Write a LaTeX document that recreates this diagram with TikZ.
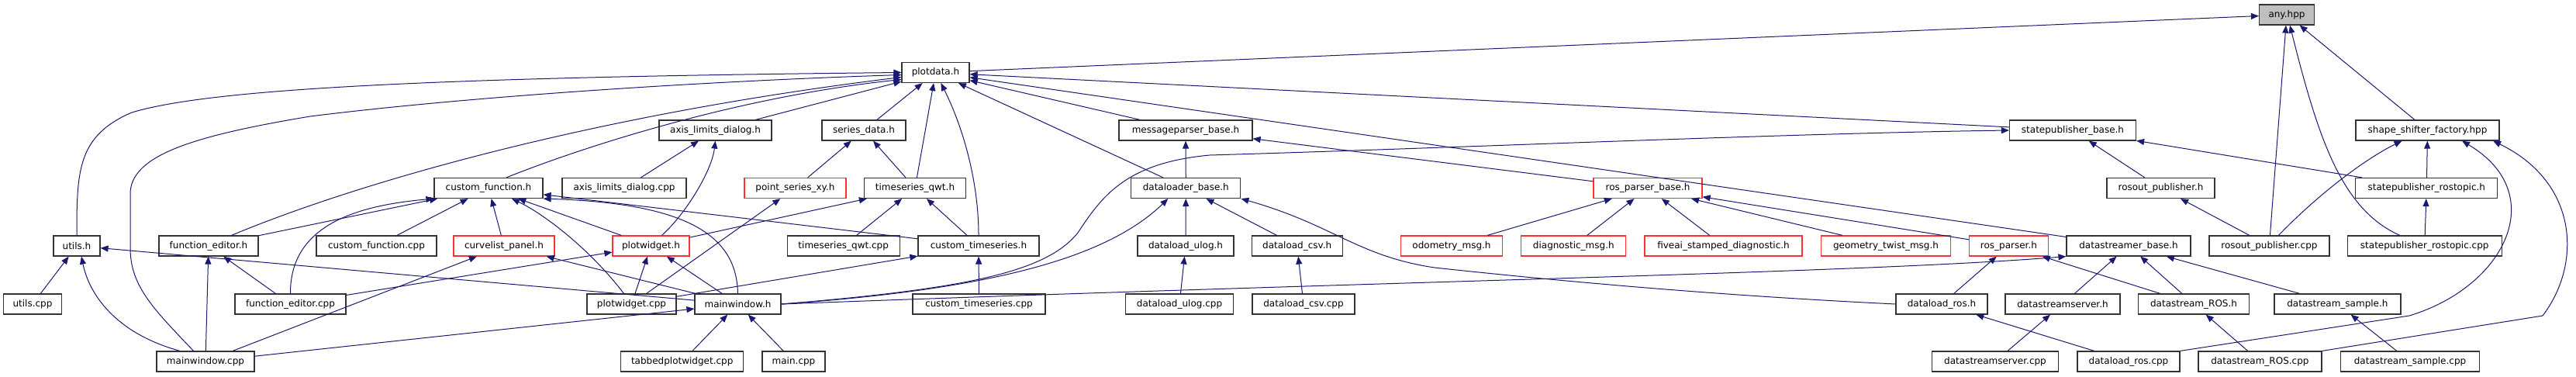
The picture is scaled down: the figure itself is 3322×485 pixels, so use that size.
\documentclass[tikz,border=0pt]{standalone}
\usepackage{fontspec}
\setmainfont{DejaVu Sans}
\usepackage{tikz}
\usetikzlibrary{arrows.meta}
\definecolor{edgeblue}{HTML}{191970}
\definecolor{boxred}{HTML}{FF3030}
\definecolor{boxgray}{HTML}{BFBFBF}
\begin{document}
\begin{tikzpicture}[x=1pt, y=-1pt, >={Triangle[length=10pt,width=8pt]},
	filebox/.style={draw=black!80, line width=1.2pt, inner sep=0pt, minimum height=26pt,
		minimum width=#1pt, font=\fontsize{12}{14}\selectfont},
	redbox/.style={filebox=#1, draw=boxred},
	dep/.style={<-, draw=edgeblue, line width=1pt}]
	\useasboundingbox (0,0) rectangle (3322,485);
	\node[filebox=71, fill=boxgray] (any) at (2949,19) {any.hpp};
	\node[filebox=87] (plotdata) at (1206.5,93.5) {plotdata.h};
	\node[filebox=145] (axislimh) at (922.5,168) {axis\_limits\_dialog.h};
	\node[filebox=108] (seriesdata) at (1114,168) {series\_data.h};
	\node[filebox=172] (msgparser) at (1529,168) {messageparser\_base.h};
	\node[filebox=163] (statepub) at (2673,168) {statepublisher\_base.h};
	\node[filebox=185] (shapeshift) at (3130.5,168) {shape\_shifter\_factory.hpp};
	\node[filebox=140] (customfunch) at (630,242.5) {custom\_function.h};
	\node[filebox=160] (axislimcpp) at (805,242.5) {axis\_limits\_dialog.cpp};
	\node[redbox=131] (pointxy) at (1025.5,242.5) {point\_series\_xy.h};
	\node[filebox=131] (tsqwth) at (1180,242.5) {timeseries\_qwt.h};
	\node[filebox=141] (loaderbase) at (1529.3,242.5) {dataloader\_base.h};
	\node[redbox=140] (rosparserbase) at (2125,242.5) {ros\_parser\_base.h};
	\node[filebox=139] (rosouth) at (2786.5,242.5) {rosout\_publisher.h};
	\node[filebox=183] (statepubtopich) at (3129.3,242.5) {statepublisher\_rostopic.h};
	\node[filebox=60] (utilsh) at (99,317) {utils.h};
	\node[filebox=128] (funceditorh) at (269,317) {function\_editor.h};
	\node[filebox=155] (customfunccpp) at (485.5,317) {custom\_function.cpp};
	\node[redbox=130] (curvelist) at (650,317) {curvelist\_panel.h};
	\node[redbox=99] (plotwidgeth) at (839.5,317) {plotwidget.h};
	\node[filebox=145] (tsqwtcpp) at (1087.7,317) {timeseries\_qwt.cpp};
	\node[filebox=156] (customtsh) at (1262,317) {custom\_timeseries.h};
	\node[filebox=124] (ulogh) at (1529,317) {dataload\_ulog.h};
	\node[filebox=117] (csvh) at (1672.7,317) {dataload\_csv.h};
	\node[redbox=131] (odometry) at (1872,317) {odometry\_msg.h};
	\node[redbox=135] (diagnostic) at (2029.3,317) {diagnostic\_msg.h};
	\node[redbox=203] (fiveai) at (2222.5,317) {fiveai\_stamped\_diagnostic.h};
	\node[redbox=167] (twist) at (2432,317) {geometry\_twist\_msg.h};
	\node[redbox=102] (rosparserh) at (2590.4,317) {ros\_parser.h};
	\node[filebox=160] (streamerbase) at (2745,317) {datastreamer\_base.h};
	\node[filebox=155] (rosoutcpp) at (2926.4,317) {rosout\_publisher.cpp};
	\node[filebox=199] (statepubtopiccpp) at (3126.7,317) {statepublisher\_rostopic.cpp};
	\node[filebox=75] (utilscpp) at (42,392) {utils.cpp};
	\node[filebox=143] (funceditorcpp) at (374.5,392) {function\_editor.cpp};
	\node[filebox=115] (plotwidgetcpp) at (814.5,392) {plotwidget.cpp};
	\node[filebox=111] (mainwindowh) at (951.5,392) {mainwindow.h};
	\node[filebox=171] (customtscpp) at (1262.5,392) {custom\_timeseries.cpp};
	\node[filebox=139] (ulogcpp) at (1521,392) {dataload\_ulog.cpp};
	\node[filebox=132] (csvcpp) at (1681,392) {dataload\_csv.cpp};
	\node[filebox=118] (rosloadh) at (2504,392) {dataload\_ros.h};
	\node[filebox=148] (serverh) at (2660,392) {datastreamserver.h};
	\node[filebox=143] (streamrosh) at (2829,392) {datastream\_ROS.h};
	\node[filebox=163] (sampleh) at (3014.4,392) {datastream\_sample.h};
	\node[filebox=126] (mainwindowcpp) at (265,466) {mainwindow.cpp};
	\node[filebox=158] (tabbedcpp) at (879.7,466) {tabbedplotwidget.cpp};
	\node[filebox=81] (maincpp) at (1023.5,466) {main.cpp};
	\node[filebox=163] (servercpp) at (2573,466) {datastreamserver.cpp};
	\node[filebox=132] (rosloadcpp) at (2745,466) {dataload\_ros.cpp};
	\node[filebox=159] (streamroscpp) at (2914.4,466) {datastream\_ROS.cpp};
	\node[filebox=179] (samplecpp) at (3108,466) {datastream\_sample.cpp};
	\draw (any) edge[dep] (plotdata) edge[dep] (rosoutcpp) edge[dep] (shapeshift);
	\draw[dep] ([xshift=4pt]any.south) .. controls (2990,180) and (3020,270) .. ([xshift=-32pt]statepubtopiccpp.north);
	\draw[dep] (plotdata.west) .. controls (500,100) and (260,118) .. (170,145) .. controls (100,175) and (99,220) .. (utilsh.north);
	\draw[dep] ([yshift=-3pt]plotdata.west) .. controls (900,105) and (600,125) .. (400,150) .. controls (250,175) and (168,200) .. (168,250) -- (168,320) .. controls (168,370) and (200,400) .. ([xshift=-15.5pt]mainwindowcpp.north);
	\draw[dep] ([yshift=-6pt]plotdata.west) .. controls (750,150) and (450,240) .. ([xshift=29.5pt]funceditorh.north);
	\draw[dep] ([yshift=-9pt]plotdata.west) .. controls (950,125) and (750,190) .. ([xshift=23pt]customfunch.north);
	\draw (plotdata) edge[dep] (axislimh) edge[dep] (seriesdata) edge[dep] (tsqwth) edge[dep] (loaderbase) edge[dep] (msgparser) edge[dep] (statepub) edge[dep] (streamerbase);
	\draw[dep] (plotdata) .. controls (1240,160) and (1262,230) .. (customtsh.north);
	\draw (axislimh) edge[dep] (axislimcpp);
	\draw[dep] (axislimh.south) .. controls (918,220) and (885,275) .. ([xshift=14pt]plotwidgeth.north);
	\draw (seriesdata) edge[dep] (pointxy) edge[dep] (tsqwth);
	\draw (tsqwth) edge[dep] (plotwidgeth) edge[dep] (tsqwtcpp) edge[dep] (customtsh);
	\draw (pointxy) edge[dep] (plotwidgetcpp);
	\draw (customtsh) edge[dep] (plotwidgetcpp) edge[dep] (customtscpp);
	\draw (customfunch) edge[dep] (funceditorh) edge[dep] (customfunccpp) edge[dep] (curvelist) edge[dep] (plotwidgeth) edge[dep] (customtsh);
	\draw[dep] (customfunch.south west) .. controls (460,265) and (374,290) .. (funceditorcpp.north);
	\draw[dep] ([xshift=30pt]customfunch.south) .. controls (700,275) and (760,320) .. ([xshift=-10pt]plotwidgetcpp.north);
	\draw[dep] (customfunch.south east) .. controls (880,262) and (950,300) .. (mainwindowh.north);
	\draw (utilsh) edge[dep] (utilscpp) edge[dep] (mainwindowh);
	\draw[dep] ([xshift=6pt]utilsh.south) .. controls (115,380) and (150,430) .. ([xshift=-33pt]mainwindowcpp.north);
	\draw (funceditorh) edge[dep] (funceditorcpp) edge[dep] (mainwindowcpp);
	\draw (curvelist) edge[dep] (mainwindowcpp) edge[dep] (mainwindowh);
	\draw (plotwidgeth) edge[dep] (funceditorcpp) edge[dep] (plotwidgetcpp) edge[dep] (mainwindowh);
	\draw (mainwindowh) edge[dep] (mainwindowcpp) edge[dep] (tabbedcpp) edge[dep] (maincpp);
	\draw (msgparser) edge[dep] (loaderbase) edge[dep] (rosparserbase);
	\draw (loaderbase) edge[dep] (ulogh) edge[dep] (csvh);
	\draw[dep] ([xshift=-23pt]loaderbase.south) .. controls (1420,340) and (1250,375) .. (mainwindowh.east);
	\draw[dep] (loaderbase.south east) .. controls (1720,290) and (1750,330) .. (1850,345) .. controls (2100,372) and (2300,385) .. (rosloadh.west);
	\draw (ulogh) edge[dep] (ulogcpp);
	\draw (csvh) edge[dep] (csvcpp);
	\draw (rosparserbase) edge[dep] (odometry) edge[dep] (diagnostic) edge[dep] (fiveai) edge[dep] (twist) edge[dep] (rosparserh);
	\draw (rosparserh) edge[dep] (rosloadh) edge[dep] (streamrosh);
	\draw (streamerbase) edge[dep] (serverh) edge[dep] (streamrosh) edge[dep] (sampleh);
	\draw[dep] (streamerbase.south west) .. controls (2400,352) and (1800,362) .. (mainwindowh.east);
	\draw (statepub) edge[dep] (rosouth) edge[dep] (statepubtopich);
	\draw[dep] (statepub.west) .. controls (2300,172) and (1900,190) .. (1560,200) .. controls (1450,210) and (1420,255) .. (1390,300) .. controls (1350,350) and (1250,372) .. (mainwindowh.east);
	\draw (rosouth) edge[dep] (rosoutcpp);
	\draw (shapeshift) edge[dep] (statepubtopich);
	\draw[dep] ([xshift=-33pt]shapeshift.south) .. controls (3050,205) and (2990,250) .. ([xshift=12pt]rosoutcpp.north);
	\draw[dep] ([xshift=44.5pt]shapeshift.south) .. controls (3290,250) and (3230,370) .. (3107,407) -- (rosloadcpp.north east);
	\draw[dep] ([xshift=84.5pt]shapeshift.south) .. controls (3325,235) and (3330,340) .. (3279,407) -- (streamroscpp.north east);
	\draw (statepubtopich) edge[dep] (statepubtopiccpp);
	\draw (rosloadh) edge[dep] (rosloadcpp);
	\draw (serverh) edge[dep] (servercpp);
	\draw (streamrosh) edge[dep] (streamroscpp);
	\draw (sampleh) edge[dep] (samplecpp);
\end{tikzpicture}
\end{document}
